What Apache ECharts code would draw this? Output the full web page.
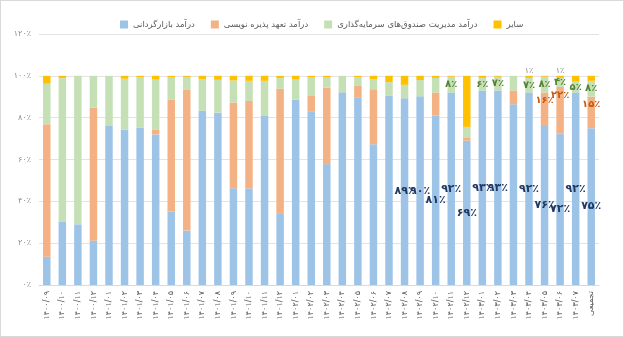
<!DOCTYPE html>
<html>
<head>
<meta charset="utf-8">
<script src="https://cdn.jsdelivr.net/npm/echarts@6/dist/echarts.min.js"></script>
<style>
  html, body { margin: 0; padding: 0; background: #fff; }
  #frame { width: 624px; height: 337px; box-sizing: border-box; border: 1px solid #d9d9d9; position: relative; }
  #chart { position: absolute; left: 0; top: 0; width: 622px; height: 335px; }
</style>
</head>
<body>
<div id="frame"><div id="chart"></div></div>
<script>
// Monthly revenue composition (share of total), Persian calendar months + cumulative
const categories = [
  '۱۴۰۰/۰۹','۱۴۰۰/۱۰','۱۴۰۰/۱۱','۱۴۰۰/۱۲',
  '۱۴۰۱/۰۱','۱۴۰۱/۰۲','۱۴۰۱/۰۳','۱۴۰۱/۰۴','۱۴۰۱/۰۵','۱۴۰۱/۰۶',
  '۱۴۰۱/۰۷','۱۴۰۱/۰۸','۱۴۰۱/۰۹','۱۴۰۱/۱۰','۱۴۰۱/۱۱','۱۴۰۱/۱۲',
  '۱۴۰۲/۰۱','۱۴۰۲/۰۲','۱۴۰۲/۰۳','۱۴۰۲/۰۴','۱۴۰۲/۰۵','۱۴۰۲/۰۶',
  '۱۴۰۲/۰۷','۱۴۰۲/۰۸','۱۴۰۲/۰۹','۱۴۰۲/۱۰','۱۴۰۲/۱۱','۱۴۰۲/۱۲',
  '۱۴۰۳/۰۱','۱۴۰۳/۰۲','۱۴۰۳/۰۳','۱۴۰۳/۰۴','۱۴۰۳/۰۵','۱۴۰۳/۰۶','۱۴۰۳/۰۷',
  'تجمیعی'
];

const seriesNames = [
  'درآمد بازارگردانی',
  'درآمد تعهد پذیره نویسی',
  'درآمد مدیریت صندوق‌های سرمایه‌گذاری',
  'سایر'
];

// percent of total revenue per month
const marketMaking = [
  13.5, 30.4, 29.0, 21.2, 76.0, 74.4, 75.3, 72.0, 35.1, 26.0,
  83.3, 82.4, 46.3, 46.2, 80.8, 34.0, 88.6, 82.8, 57.8, 92.1,
  89.6, 67.3, 90.4, 89.3, 90.2, 81.0, 92.0, 69.0, 93.0, 93.0,
  86.4, 92.0, 76.0, 72.4, 92.0, 75.0
];
const underwriting = [
  63.4, 0, 0, 63.7, 0, 0, 0, 2.4, 53.4, 67.3,
  0, 0, 41.0, 41.8, 0, 59.9, 0, 7.9, 36.6, 0,
  5.6, 26.3, 0, 0, 0, 11.0, 0, 1.6, 0, 0,
  6.6, 0, 16.0, 22.3, 0, 15.0
];
const fundManagement = [
  19.3, 68.5, 71.0, 15.1, 24.0, 24.2, 24.1, 23.8, 10.7, 6.2,
  15.1, 15.7, 10.5, 9.6, 16.8, 5.0, 9.8, 8.5, 4.8, 7.9,
  4.2, 4.8, 6.6, 6.4, 7.8, 7.0, 7.6, 5.0, 6.0, 6.6,
  7.0, 7.0, 7.6, 4.3, 5.2, 7.6
];
const other = [
  3.8, 1.1, 0, 0, 0, 1.4, 0.6, 1.8, 0.8, 0.5,
  1.6, 1.9, 2.2, 2.4, 2.4, 1.1, 1.6, 0.8, 0.8, 0,
  0.6, 1.6, 3.0, 4.3, 2.0, 1.0, 0.4, 24.4, 1.0, 0.4,
  0, 1.0, 0.4, 1.0, 2.8, 2.4
];

// which bars carry a value label, per series (0-based category index)
const labeledMarketMaking = [23, 24, 25, 26, 27, 28, 29, 31, 32, 33, 34, 35];
const labeledUnderwriting = [32, 33, 35];
const labeledFundManagement = [26, 28, 29, 31, 32, 33, 34, 35];
const labeledOther = [31, 33];

const yTicks = { min: 0, max: 120, interval: 20 };

const faDigits = '۰۱۲۳۴۵۶۷۸۹';
const toFa = s => String(s).replace(/[0-9]/g, d => faDigits[+d]);
const pct = v => toFa(Math.round(v)) + '٪';

const colors = ['#9dc3e6', '#f4b183', '#c5e0b4', '#ffc000'];
const FONT = 'DejaVu Sans';

function buildData(values, labeled, labelStyle) {
  return values.map((v, i) => labeled.includes(i)
    ? { value: v, label: Object.assign({ show: true }, labelStyle) }
    : v);
}

const labelStyles = [
  { position: 'inside', color: '#1f3864', fontWeight: 'bold', fontSize: 11 },
  { position: 'insideTop', distance: 3, color: '#c55a11', fontWeight: 'bold', fontSize: 10 },
  { position: 'inside', color: '#548235', fontWeight: 'bold', fontSize: 10 },
  { position: 'top', distance: 1, color: '#8c8c8c', fontSize: 8 }
];

const valueSets = [marketMaking, underwriting, fundManagement, other];
const labelSets = [labeledMarketMaking, labeledUnderwriting, labeledFundManagement, labeledOther];

const chart = echarts.init(document.getElementById('chart'), null, { renderer: 'canvas' });
chart.setOption({
  animation: false,
  textStyle: { fontFamily: FONT },
  color: colors,
  legend: {
    top: 14,
    left: 114,
    itemWidth: 8,
    itemHeight: 8,
    itemGap: 16,
    icon: 'rect',
    textStyle: { fontFamily: FONT, fontSize: 8.5, color: '#595959' },
    data: seriesNames
  },
  grid: { left: 38, right: 24, top: 33, bottom: 51 },
  xAxis: {
    type: 'category',
    data: categories,
    axisLine: { lineStyle: { color: '#d9d9d9' } },
    axisTick: { show: false },
    axisLabel: { rotate: 90, interval: 0, fontSize: 8, color: '#595959', margin: 6, fontFamily: FONT }
  },
  yAxis: {
    type: 'value',
    min: yTicks.min,
    max: yTicks.max,
    interval: yTicks.interval,
    axisLine: { show: false },
    axisTick: { show: false },
    splitLine: { lineStyle: { color: '#e3e3e3' } },
    axisLabel: { fontSize: 8, color: '#8c8c8c', margin: 8, formatter: v => pct(v), fontFamily: FONT }
  },
  series: valueSets.map((vals, k) => ({
    name: seriesNames[k],
    type: 'bar',
    stack: 'total',
    barCategoryGap: '52%',
    data: buildData(vals, labelSets[k], labelStyles[k]),
    label: { show: false, formatter: p => pct(p.value), fontFamily: FONT }
  }))
});
</script>
</body>
</html>
